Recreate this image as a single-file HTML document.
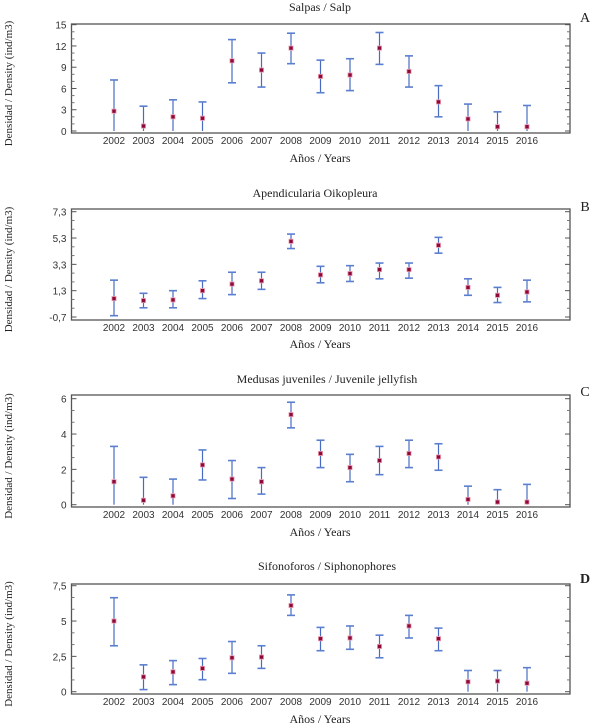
<!DOCTYPE html>
<html><head><meta charset="utf-8"><style>
body{margin:0;background:#fff;}
svg{display:block;}
</style></head><body>
<svg id="chart" width="602" height="727" xmlns="http://www.w3.org/2000/svg"></svg>
<script>
const years = ["2002","2003","2004","2005","2006","2007","2008","2009","2010","2011","2012","2013","2014","2015","2016"];
const salpMean = [2.8,0.7,2.0,1.8,9.9,8.6,11.7,7.7,7.9,11.7,8.4,4.1,1.7,0.6,0.6];
const salpLow  = [0,0,0,0,6.8,6.2,9.5,5.4,5.7,9.4,6.2,2.0,0,0,0];
const salpHigh = [7.2,3.5,4.4,4.1,12.9,11.0,13.8,10.0,10.2,13.9,10.6,6.4,3.8,2.7,3.6];
const salpTicks = [0,3,6,9,12,15];
const salpTickLabels = ["0","3","6","9","12","15"];
const oikoMean = [0.7,0.55,0.6,1.3,1.8,2.05,5.05,2.5,2.6,2.9,2.9,4.75,1.55,0.95,1.2];
const oikoLow  = [-0.6,0.0,0.0,0.7,1.0,1.4,4.5,1.9,2.0,2.2,2.25,4.15,0.95,0.4,0.45];
const oikoHigh = [2.1,1.1,1.3,2.05,2.7,2.7,5.6,3.15,3.2,3.4,3.4,5.35,2.2,1.55,2.1];
const oikoTicks = [-0.7,1.3,3.3,5.3,7.3];
const oikoTickLabels = ["-0,7","1,3","3,3","5,3","7,3"];
const medMean = [1.3,0.25,0.5,2.25,1.45,1.3,5.1,2.9,2.1,2.5,2.9,2.7,0.3,0.15,0.15];
const medLow  = [0,0,0,1.4,0.35,0.6,4.35,2.1,1.3,1.7,2.1,1.95,0,0,0];
const medHigh = [3.3,1.55,1.45,3.1,2.5,2.1,5.8,3.65,2.85,3.3,3.65,3.45,1.05,0.85,1.15];
const medTicks = [0,2,4,6];
const medTickLabels = ["0","2","4","6"];
const sifMean = [5.0,1.05,1.4,1.65,2.4,2.45,6.1,3.75,3.8,3.2,4.65,3.75,0.7,0.75,0.6];
const sifLow  = [3.25,0.15,0.5,0.85,1.3,1.65,5.4,2.9,3.0,2.4,3.8,2.9,0,0,0];
const sifHigh = [6.65,1.9,2.2,2.35,3.55,3.25,6.85,4.55,4.65,4.0,5.4,4.5,1.5,1.5,1.7];
const sifTicks = [0,2.5,5,7.5];
const sifTickLabels = ["0","2,5","5","7,5"];

const NS="http://www.w3.org/2000/svg";
const svg=document.getElementById('chart');
function mk(tag,attrs,parent){const e=document.createElementNS(NS,tag);for(const k in attrs)e.setAttribute(k,attrs[k]);(parent||svg).appendChild(e);return e;}

function panel(o){
  const g=mk('g',{});
  
  
  const L=71.5,R=570;
  const xScale=i=>114+i*29.5;
  const y0=o.vmin, y1=o.vmax;
  const yScale=v=>o.pb+(v-y0)/(y1-y0)*(o.pt-o.pb);
  const box=mk('rect',{x:L,y:o.top,width:R-L,height:o.bot-o.top,fill:'none',stroke:'#555','stroke-width':1.3},g);
  
  
  const t=mk('text',{x:o.titleX,y:o.titleY,'font-family':'Liberation Serif, serif','font-size':12,fill:'#222','text-anchor':'middle'},g);
  t.textContent=o.title;
  
  
  const pl=mk('text',{x:585,y:o.letterY,'font-family':'Liberation Serif, serif','font-size':14,'font-weight':o.bold?'bold':'normal',fill:'#222','text-anchor':'middle'},g);
  pl.textContent=o.letter;
  
  
  const step=o.ticks[1]-o.ticks[0];
  for(let k=0;k<o.ticks.length;k++){
    const v=o.ticks[k];const y=yScale(v);
    mk('line',{x1:L,x2:L+5,y1:y,y2:y,stroke:'#555'},g);
    mk('line',{x1:R,x2:R-5,y1:y,y2:y,stroke:'#555'},g);
    const tl=mk('text',{x:L-5,y:y+4,'font-family':'Liberation Sans, sans-serif','font-size':10,fill:'#333','text-anchor':'end'},g);
    tl.textContent=o.tickLabels[k];
    
    
    if(k<o.ticks.length-1){
      for(let m=1;m<3;m++){const ym=yScale(v+step*m/3);
        mk('line',{x1:L,x2:L+3,y1:ym,y2:ym,stroke:'#777'},g);
        mk('line',{x1:R,x2:R-3,y1:ym,y2:ym,stroke:'#777'},g);}
    }
  }
  const yl=mk('text',{transform:`translate(12,${(o.top+o.bot)/2+5}) rotate(-90)`,'font-family':'Liberation Serif, serif','font-size':11,fill:'#222','text-anchor':'middle'},g);
  yl.textContent='Densidad / Density (ind/m3)';
  
  
  const xl=mk('text',{x:320,y:o.xtitleY,'font-family':'Liberation Serif, serif','font-size':12,fill:'#222','text-anchor':'middle'},g);
  xl.textContent='Años / Years';
  
  
  for(let i=0;i<years.length;i++){
    const x=xScale(i);
    const yt=mk('text',{x:x,y:o.bot+11,'font-family':'Liberation Sans, sans-serif','font-size':10,fill:'#333','text-anchor':'middle'},g);
    yt.textContent=years[i];
    
    
    const eb=mk('g',{},g);
    
    
    const yh=yScale(o.high[i]),ylo=yScale(o.low[i]),ym=yScale(o.mean[i]);
    mk('line',{x1:x,x2:x,y1:yh,y2:ylo,stroke:'#4a6cc0','stroke-width':1.2},eb);
    mk('line',{x1:x-4,x2:x+4,y1:yh,y2:yh,stroke:'#5b7fd0','stroke-width':1.6},eb);
    if(o.low[i]>o.vmin+0.01) mk('line',{x1:x-4,x2:x+4,y1:ylo,y2:ylo,stroke:'#5b7fd0','stroke-width':1.6},eb);
    mk('rect',{x:x-2.5,y:ym-2.5,width:5,height:5,fill:'#f0a0b0'},eb);
    const p=mk('rect',{x:x-1.7,y:ym-1.7,width:3.4,height:3.4,fill:'#8b0a3a'},eb);
    
    
  }
}
panel({name:'panel-a-salps',title:'Salpas / Salp',titleX:320,titleY:11,letter:'A',letterY:22,top:24,bot:133,pt:24.7,pb:131,vmin:0,vmax:15,ticks:salpTicks,tickLabels:salpTickLabels,mean:salpMean,low:salpLow,high:salpHigh,xtitleY:162});
panel({name:'panel-b-oikopleura',title:'Apendicularia Oikopleura',titleX:315,titleY:197,letter:'B',letterY:211,top:209,bot:320,pt:211.7,pb:317,vmin:-0.7,vmax:7.3,ticks:oikoTicks,tickLabels:oikoTickLabels,mean:oikoMean,low:oikoLow,high:oikoHigh,xtitleY:348});
panel({name:'panel-c-jellyfish',title:'Medusas juveniles / Juvenile jellyfish',titleX:327,titleY:383,letter:'C',letterY:396,top:395,bot:507,pt:398.7,pb:504.7,vmin:0,vmax:6,ticks:medTicks,tickLabels:medTickLabels,mean:medMean,low:medLow,high:medHigh,xtitleY:536});
panel({name:'panel-d-siphonophores',title:'Sifonoforos / Siphonophores',titleX:327,titleY:570,letter:'D',letterY:583,bold:true,top:584,bot:694,pt:585.7,pb:691.7,vmin:0,vmax:7.5,ticks:sifTicks,tickLabels:sifTickLabels,mean:sifMean,low:sifLow,high:sifHigh,xtitleY:723});
</script>
</body></html>
